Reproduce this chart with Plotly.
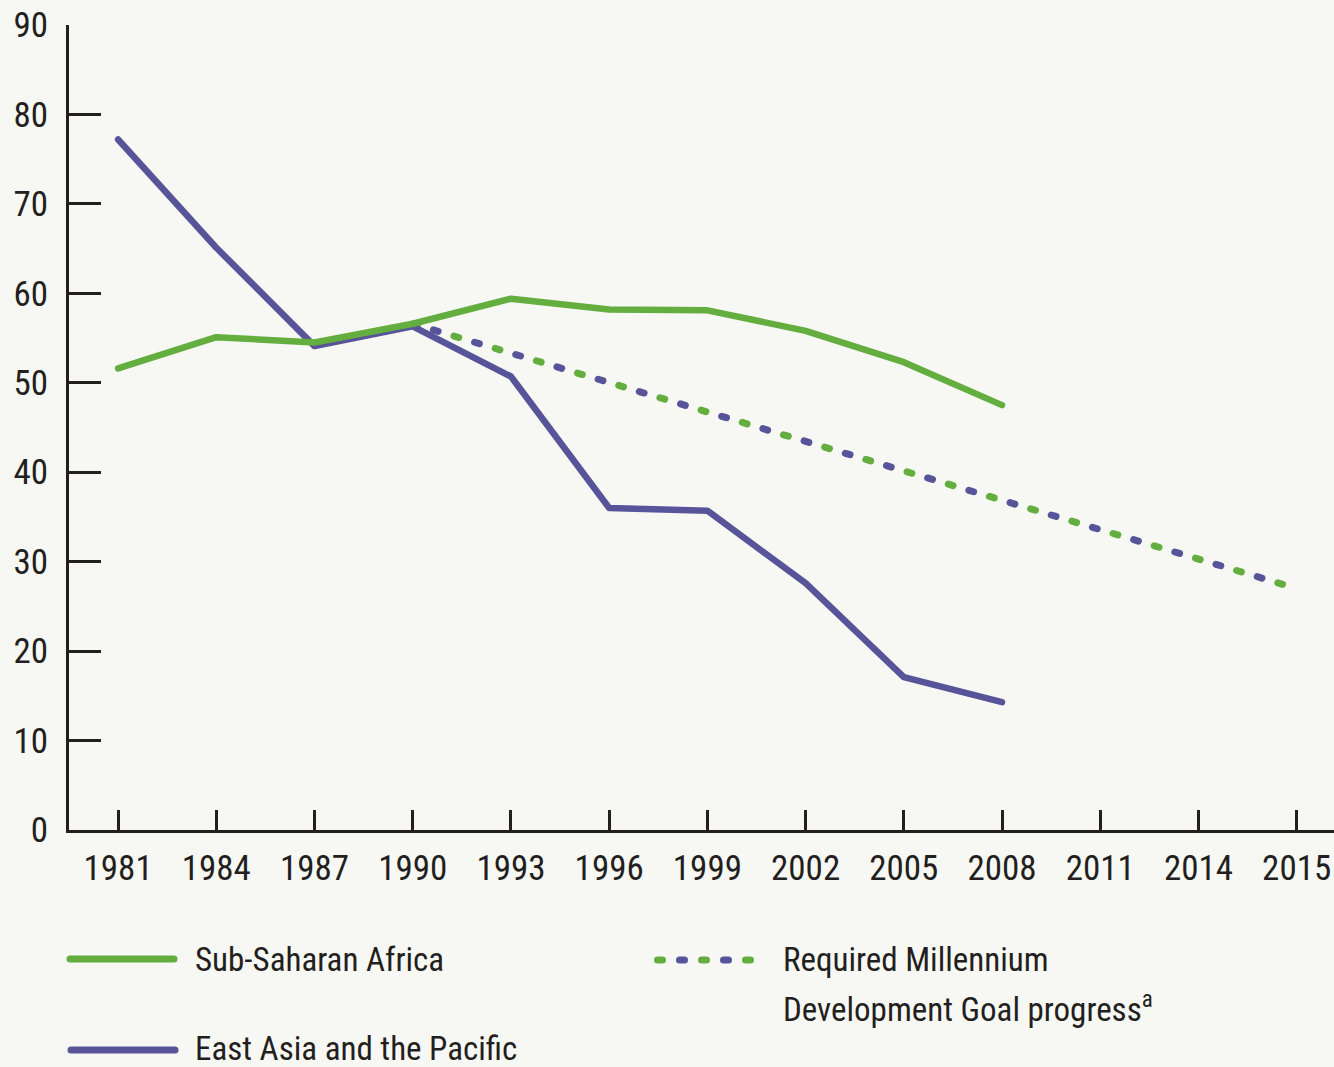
import plotly.graph_objects as go

years = ["1981", "1984", "1987", "1990", "1993", "1996", "1999", "2002", "2005", "2008", "2011", "2014", "2015"]
data_years = years[:10]
ssa = [51.6, 55.1, 54.5, 56.6, 59.4, 58.2, 58.1, 55.8, 52.3, 47.5]
eap = [77.2, 65.1, 54.1, 56.3, 50.7, 36.0, 35.7, 27.6, 17.1, 14.3]
mdg_years = ["1990", "2015"]
mdg = [56.6, 27.0]
y_ticks = [0, 10, 20, 30, 40, 50, 60, 70, 80, 90]

GREEN = "#63AE3F"
PURPLE = "#58549A"
TEXT = "#231F20"
BG = "#F7F8F3"
FONT = "Liberation Sans Narrow, Roboto Condensed, Arial Narrow, sans-serif"

W, H = 1334, 1067
L, R, T, B = 69, 0, 25, 237
PW, PH = W - L - R, H - T - B


def px(x):
    return (x - L) / PW


def py(y):
    return (H - B - y) / PH


fig = go.Figure()
fig.add_trace(go.Scatter(x=mdg_years, y=mdg, mode="lines",
                         line=dict(color=GREEN, width=7, dash="5px,38px"),
                         showlegend=False, hoverinfo="skip"))
fig.add_trace(go.Scatter(x=mdg_years, y=mdg, mode="lines",
                         line=dict(color=PURPLE, width=7, dash="5px,38px"),
                         showlegend=False, hoverinfo="skip"))
fig.add_trace(go.Scatter(x=data_years, y=eap, mode="lines",
                         line=dict(color=PURPLE, width=6.5),
                         name="East Asia and the Pacific", showlegend=False))
fig.add_trace(go.Scatter(x=data_years, y=ssa, mode="lines",
                         line=dict(color=GREEN, width=6.5),
                         name="Sub-Saharan Africa", showlegend=False))

shapes = [
    dict(type="line", xref="paper", yref="paper", x0=px(70), x1=px(174), y0=py(959), y1=py(959),
         line=dict(color=GREEN, width=7)),
    dict(type="line", xref="paper", yref="paper", x0=px(71), x1=px(175), y0=py(1050), y1=py(1050),
         line=dict(color=PURPLE, width=7)),
]
for i, cx in enumerate([660, 682, 704, 726, 748]):
    shapes.append(dict(type="line", xref="paper", yref="paper", x0=px(cx - 2.5), x1=px(cx + 2.5),
                       y0=py(960), y1=py(960),
                       line=dict(color=GREEN if i % 2 == 0 else PURPLE, width=7)))

LEG = dict(size=33, color=TEXT, family=FONT)
annotations = [
    dict(text="Sub-Saharan Africa", xref="paper", yref="paper", x=px(193), y=py(959),
         xanchor="left", yanchor="middle", showarrow=False, font=LEG),
    dict(text="East Asia and the Pacific", xref="paper", yref="paper", x=px(193), y=py(1048),
         xanchor="left", yanchor="middle", showarrow=False, font=LEG),
    dict(text="Required Millennium", xref="paper", yref="paper", x=px(781), y=py(959),
         xanchor="left", yanchor="middle", showarrow=False, font=LEG),
    dict(text="Development Goal progress<sup>a</sup>", xref="paper", yref="paper", x=px(781), y=py(1008),
         xanchor="left", yanchor="middle", showarrow=False, font=LEG),
]

fig.update_layout(
    width=W, height=H,
    margin=dict(l=L, r=R, t=T, b=B, pad=0),
    paper_bgcolor=BG, plot_bgcolor=BG,
    font=dict(family=FONT, color=TEXT, size=35),
    shapes=shapes, annotations=annotations,
    xaxis=dict(type="category", categoryorder="array", categoryarray=years,
               tickvals=years, ticktext=years, range=[-0.5, 12.38],
               showline=True, linecolor=TEXT, linewidth=3,
               ticks="inside", ticklen=20, tickwidth=3, tickcolor=TEXT,
               showgrid=False, zeroline=False, ticklabelstandoff=5,
               tickfont=dict(size=35, color=TEXT, family=FONT)),
    yaxis=dict(range=[0, 90], tickvals=y_ticks,
               showline=True, linecolor=TEXT, linewidth=3,
               ticks="inside", ticklen=32, tickwidth=3, tickcolor=TEXT,
               showgrid=False, zeroline=False, ticklabelstandoff=11,
               tickfont=dict(size=35, color=TEXT, family=FONT)),
)

post = """
document.body.style.margin='0';
document.body.style.background='%s';
var st=document.createElement('style');
st.textContent='.scatterlayer path.js-line{stroke-linecap:round !important;stroke-linejoin:round !important;}'
 + ' .scatterlayer .trace:nth-child(2) path.js-line{stroke-dashoffset:-21.5px;}'
 + ' .shapelayer path{stroke-linecap:round !important;}';
document.head.appendChild(st);
""" % BG
fig.write_html("out.html", post_script=post, config={"displayModeBar": False})
